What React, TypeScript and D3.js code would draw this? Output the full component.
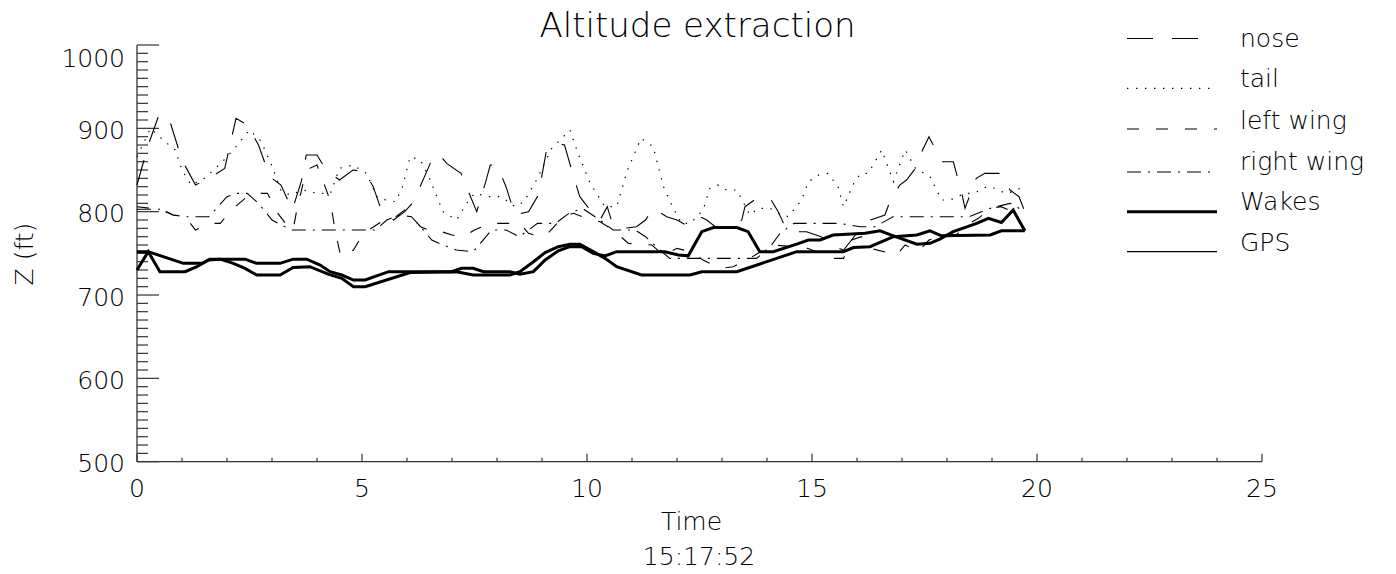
import React from 'react';
import * as d3 from 'd3';

const TITLE = 'Altitude extraction';
const X_TITLE = 'Time';
const X_SUBTITLE = '15:17:52';
const Y_TITLE = 'Z (ft)';
const X_TICKS = [0, 5, 10, 15, 20, 25];
const Y_TICKS = [500, 600, 700, 800, 900, 1000];
const LEGEND_NAMES = ['nose', 'tail', 'left wing', 'right wing', 'Wakes', 'GPS'];

type P = [number, number];

const nose: P[] = [
  [0, 832], [0.25, 880], [0.5, 918], [0.75, 905], [1.0, 862], [1.3, 832], [1.6, 840], [1.95, 852],
  [2.2, 912], [2.45, 904], [2.7, 880], [2.95, 842], [3.2, 832], [3.45, 802], [3.65, 836], [3.76, 868],
  [4.0, 868], [4.2, 850], [4.5, 838], [4.8, 850], [5.05, 848], [5.25, 830], [5.44, 800], [5.7, 790],
  [5.95, 800], [6.18, 814], [6.29, 830], [6.55, 862], [6.7, 870], [6.88, 858], [7.2, 846], [7.35, 826],
  [7.55, 800], [7.75, 836], [7.85, 856], [8.0, 856], [8.2, 830], [8.4, 796], [8.7, 800], [8.92, 820],
  [9.1, 874], [9.36, 882], [9.5, 880], [9.66, 850], [9.84, 818], [10.1, 800], [10.29, 790], [10.45, 806],
  [10.55, 788], [10.8, 780], [11.1, 782], [11.3, 790], [11.47, 804], [11.77, 794], [12.0, 790], [12.2, 784],
  [12.5, 794], [12.66, 790], [12.9, 780], [13.2, 782], [13.44, 790], [13.51, 806], [13.77, 816], [14.07, 816],
  [14.25, 800], [14.4, 782], [14.6, 776], [14.88, 776], [15.2, 770], [15.5, 758], [15.7, 754], [15.88, 766],
  [16.1, 782], [16.3, 790], [16.62, 796], [16.73, 812], [16.95, 832], [17.1, 838], [17.3, 852], [17.44, 872],
  [17.6, 890], [17.73, 876], [17.88, 860], [18.14, 860], [18.33, 822], [18.4, 804], [18.51, 820], [18.65, 840],
  [18.84, 846], [19.21, 846], [19.4, 826], [19.6, 818], [19.73, 800],
];

const tail: P[] = [
  [0, 866], [0.3, 900], [0.6, 885], [0.85, 874], [1.0, 850], [1.2, 832], [1.5, 840], [1.9, 860],
  [2.2, 878], [2.5, 898], [2.75, 885], [3.0, 855], [3.2, 825], [3.4, 820], [3.7, 826], [4.0, 822],
  [4.3, 822], [4.5, 852], [4.8, 856], [5.1, 846], [5.35, 816], [5.75, 812], [5.9, 830], [6.07, 866],
  [6.3, 862], [6.5, 840], [6.8, 800], [7.1, 790], [7.35, 812], [7.5, 822], [7.84, 818], [8.1, 818],
  [8.4, 806], [8.6, 812], [8.9, 840], [9.2, 875], [9.62, 898], [9.8, 870], [10.07, 834], [10.4, 806],
  [10.66, 806], [10.9, 850], [11.2, 888], [11.47, 878], [11.7, 830], [11.9, 806], [12.1, 786], [12.3, 786],
  [12.58, 802], [12.73, 828], [12.9, 832], [13.1, 826], [13.33, 826], [13.45, 814], [13.62, 796], [13.8, 804],
  [14.07, 804], [14.25, 798], [14.47, 794], [14.77, 814], [14.92, 836], [15.15, 844], [15.35, 846], [15.58, 830],
  [15.7, 806], [15.96, 838], [16.1, 846], [16.25, 846], [16.55, 874], [16.81, 836], [17.07, 874], [17.3, 852],
  [17.62, 842], [17.88, 814], [18.07, 814], [18.4, 822], [18.6, 822], [18.88, 830], [19.07, 828], [19.3, 822],
  [19.47, 824], [19.7, 830],
];

const leftWing: P[] = [
  [0, 806], [0.3, 804], [0.55, 802], [0.8, 796], [1.07, 794], [1.3, 778], [1.62, 786], [1.85, 786],
  [2.1, 802], [2.4, 816], [2.6, 822], [2.9, 822], [3.1, 800], [3.3, 786], [3.47, 778], [3.55, 802],
  [3.7, 836], [3.84, 852], [4.0, 856], [4.18, 830], [4.3, 812], [4.4, 778], [4.53, 746], [4.81, 754],
  [5.03, 774], [5.55, 792], [5.7, 792], [5.95, 802], [6.1, 794], [6.3, 782], [6.55, 776], [6.77, 776],
  [7.0, 772], [7.25, 770], [7.5, 778], [7.84, 786], [8.18, 786], [8.51, 786], [8.7, 774], [8.95, 770],
  [9.1, 772], [9.47, 794], [9.7, 798], [10.0, 792], [10.29, 788], [10.58, 778], [10.92, 762], [11.14, 761],
  [11.44, 760], [11.7, 748], [12.0, 756], [12.29, 752], [12.58, 742], [12.8, 736], [13.0, 732], [13.25, 734],
  [13.55, 742], [13.8, 750], [14.14, 760], [14.6, 758], [14.9, 756], [15.1, 752], [15.47, 744], [15.7, 744],
  [15.88, 766], [16.1, 770], [16.3, 756], [16.6, 752], [16.88, 748], [17.07, 760], [17.36, 752], [17.6, 766],
  [17.9, 772], [18.2, 772], [18.5, 786], [18.7, 792], [18.96, 804], [19.2, 806], [19.47, 800], [19.73, 778],
];

const rightWing: P[] = [
  [0, 803], [0.55, 803], [0.8, 796], [1.07, 794], [1.6, 794], [1.8, 806], [2.0, 818], [2.2, 822],
  [2.45, 822], [2.7, 810], [3.0, 790], [3.2, 784], [3.44, 778], [5.3, 778], [5.55, 790], [5.8, 796],
  [6.1, 794], [6.3, 782], [6.55, 766], [6.8, 760], [7.1, 754], [7.47, 752], [7.88, 778], [8.2, 778],
  [8.5, 770], [8.7, 778], [8.9, 786], [9.3, 786], [9.6, 798], [9.9, 804], [10.29, 790], [10.58, 778],
  [11.07, 778], [11.3, 770], [11.62, 754], [11.84, 744], [13.77, 744], [14.1, 760], [14.29, 774], [14.6, 786],
  [15.6, 786], [16.07, 782], [16.4, 782], [16.8, 794], [18.5, 794], [18.96, 804], [19.4, 810], [19.6, 804],
  [19.73, 800],
];

const wakes: P[] = [
  [0, 752], [0.25, 752], [1.03, 738], [1.45, 738], [1.62, 743], [2.4, 743], [2.66, 738], [3.18, 738],
  [3.47, 743], [3.77, 743], [4.07, 736], [4.29, 728], [4.55, 724], [4.81, 718], [5.07, 718], [5.59, 728],
  [6.99, 728], [7.21, 732], [7.47, 732], [7.7, 728], [8.29, 728], [8.51, 725], [8.81, 728], [9.07, 742],
  [9.36, 753], [9.62, 758], [9.88, 758], [10.14, 750], [10.4, 747], [10.66, 752], [11.73, 752], [12.03, 748],
  [12.25, 747], [12.55, 776], [12.81, 781], [13.33, 781], [13.58, 776], [13.84, 752], [14.14, 752], [14.66, 761],
  [14.92, 766], [15.18, 766], [15.47, 772], [16.18, 774], [16.51, 777], [16.81, 771], [17.33, 761], [17.62, 762],
  [17.84, 767], [18.14, 776], [18.66, 786], [18.92, 792], [19.21, 787], [19.47, 802], [19.73, 777],
];

const gps: P[] = [
  [0, 730], [0.25, 752], [0.51, 728], [1.07, 728], [1.33, 734], [1.59, 742], [1.85, 743], [2.14, 738],
  [2.4, 732], [2.66, 724], [3.18, 724], [3.47, 733], [3.84, 734], [4.25, 725], [4.55, 720], [4.81, 710],
  [5.07, 710], [6.07, 727], [7.1, 728], [7.47, 724], [8.29, 724], [8.51, 728], [8.81, 740], [9.07, 751],
  [9.36, 758], [9.62, 761], [9.84, 761], [10.14, 752], [10.4, 744], [10.66, 734], [11.21, 724], [12.29, 724],
  [12.55, 728], [13.33, 728], [14.66, 752], [15.7, 752], [15.92, 757], [16.29, 758], [16.81, 770], [17.33, 772],
  [17.62, 777], [17.88, 771], [18.96, 772], [19.21, 777], [19.73, 777],
];

const SERIES_DATA = [nose, tail, leftWing, rightWing, wakes, gps];

const STYLES = [
  { dash: '26 19', w: 1.1, lw: 1.2 },
  { dash: '1.4 7.6', w: 1.2, lw: 1.3 },
  { dash: '12 17', w: 1.1, lw: 1.2 },
  { dash: '14 7 2 7', w: 1.1, lw: 1.2 },
  { dash: 'none', w: 3, lw: 3 },
  { dash: 'none', w: 3, lw: 1.2 },
];

const FONT = '"DejaVu Sans", Verdana, sans-serif';

export default function App() {
  const W = 1396, H = 574;
  const x = d3.scaleLinear().domain([0, 25]).range([137, 1262]);
  const y = d3.scaleLinear().domain([500, 1000]).range([461.7, 45]);
  const line = d3.line<P>().x(d => x(d[0])).y(d => y(d[1]));

  const xMinor = d3.range(0, 25.001, 1);
  const yMinor = d3.range(500, 1000.001, 10);
  const axisColor = '#333';

  const legendX1 = 1127, legendX2 = 1217, legendTextX = 1240;
  const legendBase = [46.5, 87.3, 128.5, 170, 210, 250.5];
  const legendLineY = [38.5, 88.3, 129, 172, 211.7, 251.7];

  return (
    <div style={{ position: 'absolute', left: 0, top: 0 }}>
      <svg width={W} height={H} style={{ display: 'block', background: '#fff' }} fontFamily={FONT} fontWeight={200}>
        <rect x={0} y={0} width={W} height={H} fill="#fff" />
        {/* title */}
        <text x={697.5} y={36.5} textAnchor="middle" fontSize={34} fill="#000">{TITLE}</text>

        {/* y axis */}
        <line x1={x(0)} x2={x(0)} y1={y(1000)} y2={y(500)} stroke={axisColor} strokeWidth={1.3} />
        {yMinor.map(v => {
          const major = Y_TICKS.includes(Math.round(v));
          return (
            <line key={'ym' + v} x1={x(0)} x2={x(0) + (major ? 22 : 11)} y1={y(v)} y2={y(v)}
              stroke={axisColor} strokeWidth={1.2} />
          );
        })}
        {Y_TICKS.map(v => (
          <text key={'yl' + v} x={125} y={(v === 1000 ? 58 : y(v) + 1.5) + 9} textAnchor="end"
            fontSize={25} fill="#000">{v}</text>
        ))}
        <text transform={`translate(33,254) rotate(-90)`} textAnchor="middle" fontSize={25} fill="#000">{Y_TITLE}</text>

        {/* x axis */}
        <line x1={x(0)} x2={x(25)} y1={y(500)} y2={y(500)} stroke={axisColor} strokeWidth={1.3} />
        {xMinor.map(t => {
          const major = X_TICKS.includes(Math.round(t));
          return (
            <line key={'xm' + t} x1={x(t)} x2={x(t)} y1={y(500)} y2={y(500) - (major ? 8 : 4)}
              stroke={axisColor} strokeWidth={1.2} />
          );
        })}
        {X_TICKS.map(t => (
          <text key={'xl' + t} x={x(t)} y={496.5} textAnchor="middle" fontSize={25} fill="#000">{t}</text>
        ))}
        <text x={691.5} y={530} textAnchor="middle" fontSize={25} fill="#000">{X_TITLE}</text>
        <text x={699} y={565} textAnchor="middle" fontSize={25} fill="#000">{X_SUBTITLE}</text>

        {/* series */}
        {SERIES_DATA.map((d, i) => (
          <path key={'s' + i} d={line(d) || ''} fill="none" stroke="#000" strokeWidth={STYLES[i].w}
            strokeDasharray={STYLES[i].dash} strokeLinejoin="miter" />
        ))}

        {/* legend */}
        {LEGEND_NAMES.map((n, i) => (
          <g key={'lg' + i}>
            <line x1={legendX1} x2={legendX2} y1={legendLineY[i]} y2={legendLineY[i]} stroke="#000"
              strokeWidth={STYLES[i].lw} strokeDasharray={STYLES[i].dash} />
            <text x={legendTextX} y={legendBase[i]} fontSize={25} fill="#000">{n}</text>
          </g>
        ))}
      </svg>
    </div>
  );
}
